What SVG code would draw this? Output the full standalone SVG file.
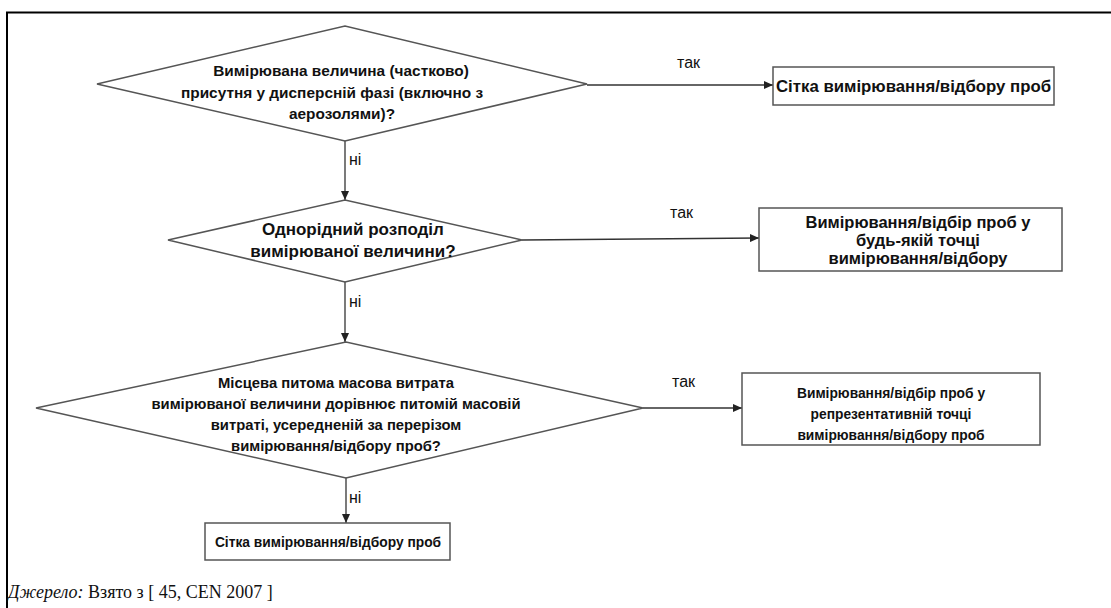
<svg xmlns="http://www.w3.org/2000/svg" width="1111" height="608" viewBox="0 0 1111 608">
<defs>
<marker id="ah" markerWidth="9" markerHeight="8" refX="9" refY="4" orient="auto" markerUnits="userSpaceOnUse">
<path d="M0,0 L9,4 L0,8 z" fill="#222"/>
</marker>
<style>
.sh{fill:#fff;stroke:#555;stroke-width:1.5}
.bx{fill:#fff;stroke:#555;stroke-width:1.5}
.ln{fill:none;stroke:#333;stroke-width:1.3;marker-end:url(#ah)}
.t{font-family:"Liberation Sans",Arial,sans-serif;font-weight:bold;font-size:15.4px;fill:#111;text-anchor:middle}
.lb{font-family:"Liberation Sans",Arial,sans-serif;font-size:16px;fill:#111}
.cap{font-family:"Liberation Serif","Times New Roman",serif;font-size:18px;fill:#111}
</style>
</defs>
<rect width="1111" height="608" fill="#fff"/>
<g id="frame"><path d="M7,608 L7,12.5 L1111,12.5" fill="none" stroke="#000" stroke-width="2"/></g>
<g id="connectors">
<path class="ln" d="M587,85 L773,85"/>
<path class="ln" d="M345,141 L345,200"/>
<path class="ln" d="M522,240 L759,238"/>
<path class="ln" d="M345,282 L345,342"/>
<path class="ln" d="M643,408 L742,408"/>
<path class="ln" d="M346,478 L346,523"/>
<text class="lb" x="677" y="68">так</text>
<text class="lb" x="349" y="165">ні</text>
<text class="lb" x="670" y="218">так</text>
<text class="lb" x="349" y="307">ні</text>
<text class="lb" x="672" y="387">так</text>
<text class="lb" x="349" y="503">ні</text>
</g>
<g id="d1">
<polygon class="sh" points="97,84 345,26 587,84 345,141"/>
<text class="t" x="341" y="76">Вимірювана величина (частково)</text>
<text class="t" x="332" y="98">присутня у дисперсній фазі (включно з</text>
<text class="t" x="342" y="119">аерозолями)?</text>
</g>
<g id="b1">
<rect class="bx" x="773" y="67" width="281" height="38"/>
<text class="t" x="776" y="92" style="text-anchor:start;font-size:16.8px">Сітка вимірювання/відбору проб</text>
</g>
<g id="d2">
<polygon class="sh" points="168,240 345,200 522,240 345,282"/>
<text class="t" x="353" y="235" style="font-size:17px">Однорідний розподіл</text>
<text class="t" x="353" y="257" style="font-size:17px">вимірюваної величини?</text>
</g>
<g id="b2">
<rect class="bx" x="759" y="208" width="303" height="63"/>
<text class="t" x="918" y="228" style="font-size:16.5px">Вимірювання/відбір проб у</text>
<text class="t" x="918" y="246" style="font-size:16.5px">будь-якій точці</text>
<text class="t" x="918" y="264" style="font-size:16.5px">вимірювання/відбору</text>
</g>
<g id="d3">
<polygon class="sh" points="36,408 346,342 643,408 346,478"/>
<text class="t" x="336" y="388" style="font-size:14.8px">Місцева питома масова витрата</text>
<text class="t" x="336" y="409" style="font-size:14.8px">вимірюваної величини дорівнює питомій масовій</text>
<text class="t" x="336" y="430" style="font-size:14.8px">витраті, усередненій за перерізом</text>
<text class="t" x="336" y="451" style="font-size:14.8px">вимірювання/відбору проб?</text>
</g>
<g id="b3">
<rect class="bx" x="742" y="373" width="298" height="72"/>
<text class="t" x="891" y="398" style="font-size:13.8px">Вимірювання/відбір проб у</text>
<text class="t" x="891" y="419" style="font-size:13.8px">репрезентативній точці</text>
<text class="t" x="891" y="440" style="font-size:13.8px">вимірювання/відбору проб</text>
</g>
<g id="b4">
<rect class="bx" x="205" y="523" width="245" height="37"/>
<text class="t" x="328" y="547" style="font-size:13.8px">Сітка вимірювання/відбору проб</text>
</g>
<g id="caption">
<text class="cap" x="8" y="598"><tspan font-style="italic">Джерело:</tspan> Взято з [ 45, CEN 2007 ]</text>
</g>
</svg>
